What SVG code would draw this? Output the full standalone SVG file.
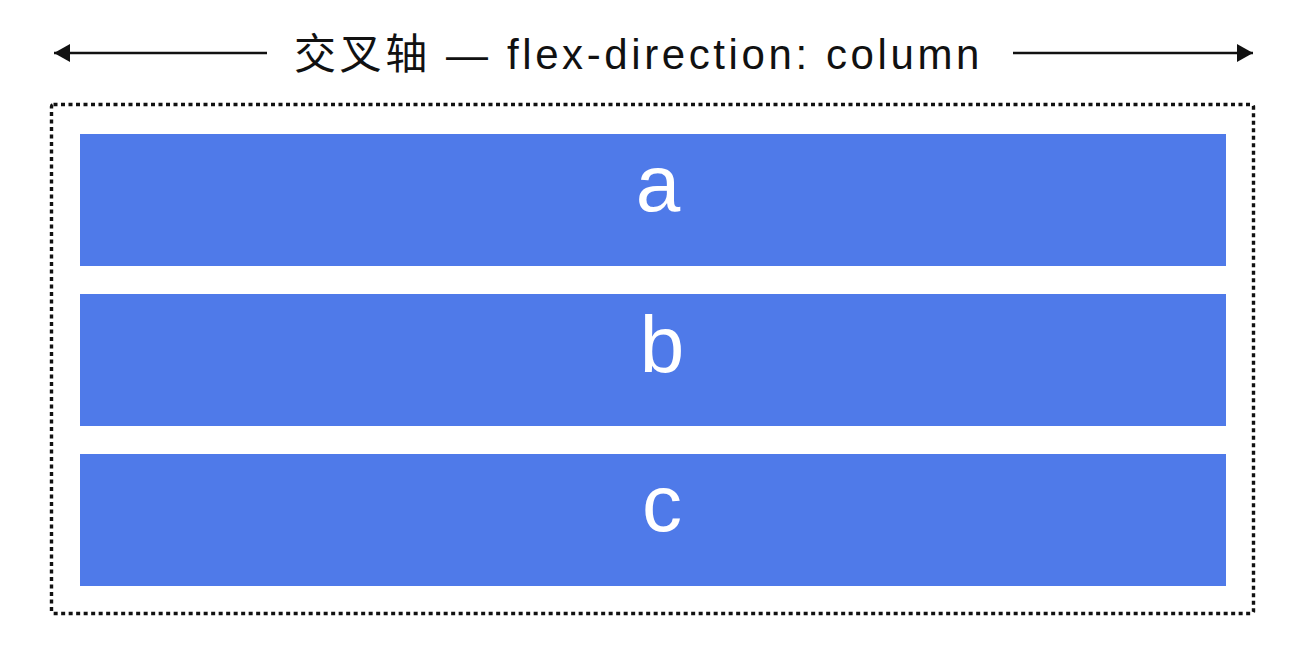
<svg xmlns="http://www.w3.org/2000/svg" width="1308" height="668" viewBox="0 0 1308 668">
<defs>
<style>
.title{font-family:"Liberation Sans","Noto Sans CJK SC",sans-serif;font-size:42px;fill:#111;letter-spacing:3.6px}
.item rect{fill:#4F7AE9}
.item text{font-family:"Liberation Sans",Arial,sans-serif;font-size:80px;fill:#fff;text-anchor:middle}
.axis{stroke:#111;stroke-width:2.5;fill:none}
</style>
<marker id="ah" viewBox="0 0 16 18" refX="16" refY="9" markerWidth="16" markerHeight="18" markerUnits="userSpaceOnUse" orient="auto-start-reverse">
<path d="M0,0 L16,9 L0,18 Z" fill="#111"/>
</marker>
</defs>
<rect width="1308" height="668" fill="#fff"/>
<g id="connectors">
<line class="axis" x1="267" y1="53" x2="54" y2="53" marker-end="url(#ah)"/>
<line class="axis" x1="1013" y1="53" x2="1253" y2="53" marker-end="url(#ah)"/>
</g>
<text class="title" x="294" y="69">交叉轴 — flex-direction: column</text>
<g id="container">
<rect x="51.5" y="104.5" width="1202" height="509" rx="2" fill="none" stroke="#111" stroke-width="3.4" stroke-dasharray="4 3.5"/>
</g>
<g id="item-a" class="item">
<rect x="80" y="134" width="1146" height="132"/>
<text x="658" y="211">a</text>
</g>
<g id="item-b" class="item">
<rect x="80" y="294" width="1146" height="132"/>
<text x="662" y="372">b</text>
</g>
<g id="item-c" class="item">
<rect x="80" y="454" width="1146" height="132"/>
<text x="662" y="531">c</text>
</g>
</svg>
